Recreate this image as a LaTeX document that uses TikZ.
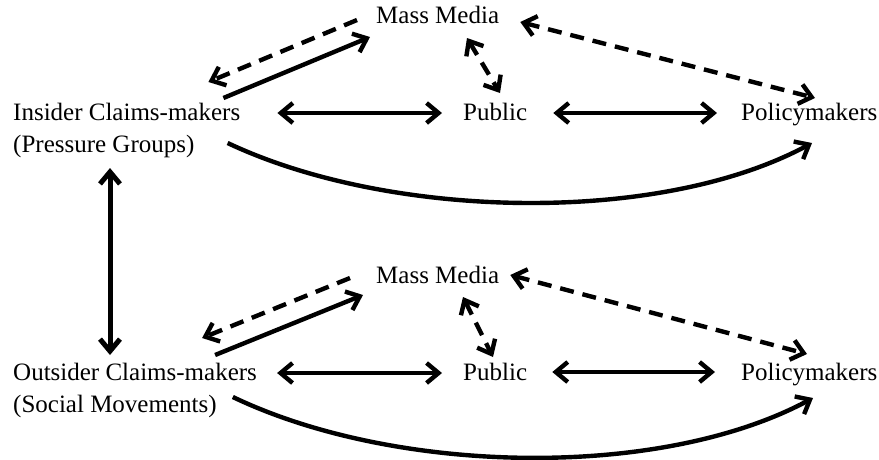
\documentclass[tikz,border=0pt]{standalone}
\usepackage{fontspec}
\setmainfont{Liberation Serif}
\usetikzlibrary{arrows.meta}
\begin{document}
\begin{tikzpicture}[x=1pt,y=-1pt,
  lbl/.style={inner sep=0pt,anchor=base west,font=\fontsize{25}{30}\selectfont},
  link/.style={line width=4.4pt,line cap=butt},
  one/.style={link,-{Straight Barb[length=12pt,width=20pt]}},
  both/.style={link,{Straight Barb[length=12pt,width=20pt]}-{Straight Barb[length=12pt,width=20pt]}},
  dashline/.style={dash pattern=on 14pt off 9pt}]
\useasboundingbox (0,0) rectangle (879,459);

% upper network: insider claims-makers
\node[lbl] (ins)  at (13,120) {Insider Claims-makers};
\node[lbl] (insg) at (13,152) {(Pressure Groups)};
\node[lbl] (mm1)  at (376,23) {Mass Media};
\node[lbl] (pub1) at (463,120) {Public};
\node[lbl] (pol1) at (741,120) {Policymakers};

\draw[one,dashline] ([shift={(-19,-3)}]mm1.base west) -- ([shift={(-32,-38)}]ins.base east);
\draw[one] ([shift={(-17,-22)}]ins.base east) -- ([shift={(-6,14)}]mm1.base west);
\draw[both] ([shift={(37,-7)}]ins.base east) -- ([shift={(-21,-7)}]pub1.base west);
\draw[both,dashline] ([shift={(91,15)}]mm1.base west) -- ([shift={(37,-27)}]pub1.base west);
\draw[both,dashline] ([shift={(21,-1)}]mm1.base east) -- ([shift={(74,-22)}]pol1.base west);
\draw[both] ([shift={(26,-7)}]pub1.base east) -- ([shift={(-24,-7)}]pol1.base west);
\draw[one] ([shift={(33,-9)}]insg.base east) .. controls +(163,77) and +(-152,82) .. ([shift={(71,23)}]pol1.base west);

% lower network: outsider claims-makers
\node[lbl] (out)  at (13,380) {Outsider Claims-makers};
\node[lbl] (outg) at (13,412) {(Social Movements)};
\node[lbl] (mm2)  at (376,283) {Mass Media};
\node[lbl] (pub2) at (463,380) {Public};
\node[lbl] (pol2) at (741,380) {Policymakers};

\draw[one,dashline] ([shift={(-26,-5)}]mm2.base west) -- ([shift={(-55,-42)}]out.base east);
\draw[one] ([shift={(-42,-25)}]out.base east) -- ([shift={(-13,12)}]mm2.base west);
\draw[both] ([shift={(20,-7)}]out.base east) -- ([shift={(-21,-7)}]pub2.base west);
\draw[both,dashline] ([shift={(87,14)}]mm2.base west) -- ([shift={(30,-23)}]pub2.base west);
\draw[both,dashline] ([shift={(11,-8)}]mm2.base east) -- ([shift={(66,-26)}]pol2.base west);
\draw[both] ([shift={(25,-8)}]pub2.base east) -- ([shift={(-26,-8)}]pol2.base west);
\draw[one] ([shift={(16,-15)}]outg.base east) .. controls +(163,78) and +(-153,82) .. ([shift={(72,18)}]pol2.base west);

% link between the two kinds of claims-makers
\draw[both,line width=5pt] ([shift={(97,16)}]insg.base west) -- ([shift={(97,-25)}]out.base west);
\end{tikzpicture}
\end{document}
